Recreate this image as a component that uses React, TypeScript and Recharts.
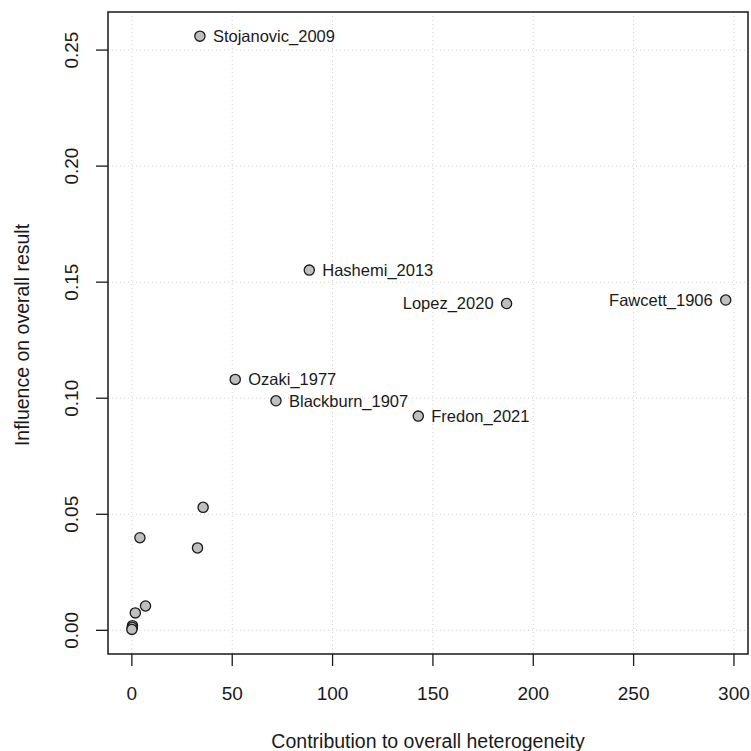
import React from 'react';
import {
  ScatterChart,
  Scatter,
  XAxis,
  YAxis,
  CartesianGrid,
  ReferenceArea,
} from 'recharts';

// one entry per study, same order in every array
const heterogeneity = [33.9, 88.4, 186.7, 295.9, 51.5, 71.8, 142.7, 35.5, 4.0, 32.7, 6.8, 1.7, 0.3, 0.2, 0.0];
const influence = [0.256, 0.1552, 0.1408, 0.1423, 0.1081, 0.0989, 0.0923, 0.053, 0.0399, 0.0355, 0.0105, 0.0075, 0.002, 0.0012, 0.0004];
const studyLabels = [
  'Stojanovic_2009', 'Hashemi_2013', 'Lopez_2020', 'Fawcett_1906', 'Ozaki_1977',
  'Blackburn_1907', 'Fredon_2021', '', '', '', '', '', '', '', '',
];
const labelSide = ['right', 'right', 'left', 'left', 'right', 'right', 'right', '', '', '', '', '', '', '', ''];

const xTicks = [0, 50, 100, 150, 200, 250, 300];
const yTicks = [0, 0.05, 0.1, 0.15, 0.2, 0.25];
const xDomain: [number, number] = [-11.9, 307];
const yDomain: [number, number] = [-0.0102, 0.2664];

const FONT = '"Liberation Sans", Arial, Helvetica, sans-serif';
const INK = '#1a1a1a';

const points = heterogeneity.map((x, i) => ({
  x,
  y: influence[i],
  name: studyLabels[i],
  side: labelSide[i],
}));

function StudyDot(props: any) {
  const { cx, cy, payload } = props;
  if (cx == null || cy == null) return null;
  const left = payload.side === 'left';
  return (
    <g>
      <circle cx={cx} cy={cy} r={5.1} fill="#bfbfbf" stroke={INK} strokeWidth={1.3} />
      {payload.name && (
        <text
          x={left ? cx - 13 : cx + 13}
          y={cy}
          dy="0.36em"
          textAnchor={left ? 'end' : 'start'}
          fontSize={16.5}
          fontFamily={FONT}
          fill={INK}
        >
          {payload.name}
        </text>
      )}
    </g>
  );
}

function YTick(props: any) {
  const { y, payload } = props;
  return (
    <text
      x={78}
      y={y}
      transform={`rotate(-90, 78, ${y})`}
      textAnchor="middle"
      fontSize={19}
      fontFamily={FONT}
      fill={INK}
    >
      {payload.value.toFixed(2)}
    </text>
  );
}

function XTick(props: any) {
  const { x, payload } = props;
  return (
    <text x={x} y={700} textAnchor="middle" fontSize={19} fontFamily={FONT} fill={INK}>
      {payload.value}
    </text>
  );
}

function XTitle() {
  return (
    <text x={428} y={748} textAnchor="middle" fontSize={19.5} fontFamily={FONT} fill={INK}>
      Contribution to overall heterogeneity
    </text>
  );
}

function YTitle() {
  return (
    <text
      x={29}
      y={335}
      transform="rotate(-90, 29, 335)"
      textAnchor="middle"
      fontSize={19.5}
      fontFamily={FONT}
      fill={INK}
    >
      Influence on overall result
    </text>
  );
}

export default function App() {
  return (
    <div style={{ position: 'absolute', left: 0, top: 0, width: 751, height: 751, background: '#fff' }}>
      <ScatterChart width={751} height={751} margin={{ top: 12, right: 3, bottom: 0, left: 0 }}>
        <CartesianGrid stroke="#d0d0d0" strokeDasharray="1 3" />
        <XAxis
          type="number"
          dataKey="x"
          domain={xDomain}
          ticks={xTicks}
          allowDataOverflow
          height={97}
          axisLine={false}
          tickLine={{ stroke: INK, strokeWidth: 1.3 }}
          tickSize={12}
          tick={<XTick />}
          label={<XTitle />}
        />
        <YAxis
          type="number"
          dataKey="y"
          domain={yDomain}
          ticks={yTicks}
          allowDataOverflow
          width={108}
          axisLine={false}
          tickLine={{ stroke: INK, strokeWidth: 1.3 }}
          tickSize={12}
          tick={<YTick />}
          label={<YTitle />}
        />
        <ReferenceArea
          x1={xDomain[0]}
          x2={xDomain[1]}
          y1={yDomain[0]}
          y2={yDomain[1]}
          fill="none"
          fillOpacity={0}
          stroke={INK}
          strokeWidth={1.5}
          ifOverflow="extendDomain"
        />
        <Scatter data={points} shape={<StudyDot />} isAnimationActive={false} />
      </ScatterChart>
    </div>
  );
}
